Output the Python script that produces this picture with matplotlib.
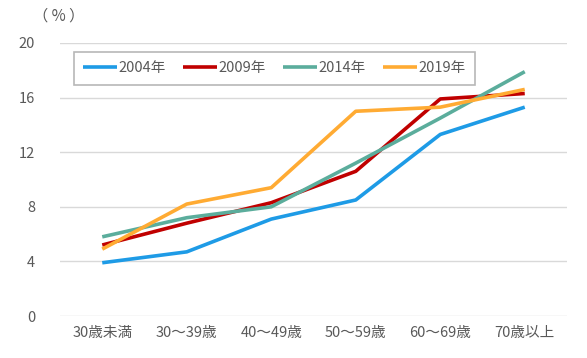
import matplotlib.pyplot as plt

plt.rcParams['font.family'] = ['Noto Sans CJK JP', 'DejaVu Sans']

categories = ['30歳未満', '30～39歳', '40～49歳', '50～59歳', '60～69歳', '70歳以上']
y2004 = [3.9, 4.7, 7.1, 8.5, 13.3, 15.3]
y2009 = [5.2, 6.8, 8.3, 10.6, 15.9, 16.3]
y2014 = [5.8, 7.2, 8.0, 11.2, 14.5, 17.9]
y2019 = [4.9, 8.2, 9.4, 15.0, 15.3, 16.6]
series_labels = ['2004年', '2009年', '2014年', '2019年']
colors = ['#1E9BE6', '#C00000', '#5BAD9C', '#FFAB33']
yticks = [0, 4, 8, 12, 16, 20]

text_color = '#595959'

fig = plt.figure(figsize=(5.87, 3.58), dpi=100)
ax = fig.add_axes([60 / 587, 1 - 316 / 358, 507 / 587, 273 / 358])

x = range(len(categories))
for vals, lab, col in zip([y2004, y2009, y2014, y2019], series_labels, colors):
    ax.plot(x, vals, color=col, lw=2.6, label=lab, solid_capstyle='butt')

ax.set_xlim(-0.5, len(categories) - 0.5)
ax.set_ylim(0, 20)
ax.set_yticks(yticks)
ax.set_xticks(list(x))
ax.set_xticklabels(categories)
ax.tick_params(length=0, labelsize=10.5, colors=text_color, pad=7)
ax.tick_params(axis='y', pad=18)
ax.grid(axis='y', color='#D9D9D9', lw=1)
ax.set_axisbelow(True)
for s in ax.spines.values():
    s.set_visible(False)

fig.text(33 / 587, 1 - 16 / 358, '（ % ）', fontsize=11, color=text_color, va='center')

leg = ax.legend(loc='upper left', bbox_to_anchor=(14 / 507, 1 - 9 / 273), ncol=4,
                frameon=True, fancybox=False, fontsize=10.5, handlelength=2.3,
                handletextpad=0.1, columnspacing=1.2, borderpad=0.65,
                borderaxespad=0, labelcolor=text_color)
leg.get_frame().set_edgecolor('#A6A6A6')
leg.get_frame().set_linewidth(1.2)

fig.savefig('out.png', dpi=100)
